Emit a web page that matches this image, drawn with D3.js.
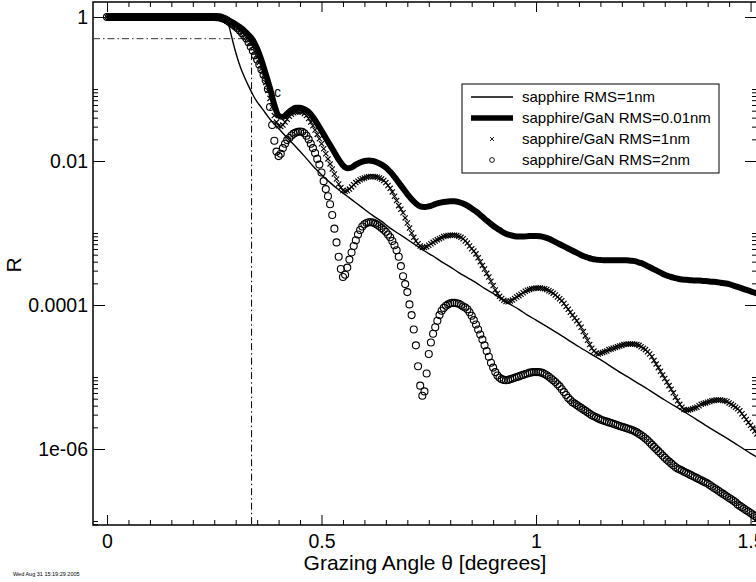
<!DOCTYPE html>
<html><head><meta charset="utf-8">
<script src="https://cdn.jsdelivr.net/npm/d3@7"></script>
<style>
body{margin:0;background:#fff}
svg{display:block}
text{font-family:"Liberation Sans",Arial,Helvetica,sans-serif;fill:#000}
</style>
</head><body>
<svg id="chart" width="756" height="582"></svg>
<script>
// ---------------- data ----------------
const seriesNames = ["sapphire RMS=1nm","sapphire/GaN RMS=0.01nm","sapphire/GaN RMS=1nm","sapphire/GaN RMS=2nm"];
const xMajorTicks = [0, 0.5, 1, 1.5];
const xTickLabels = ["0","0.5","1","1.5"];
const yMajorTicks = [1, 1e-2, 1e-4, 1e-6];
const yTickLabels = ["1","0.01","0.0001","1e-06"];
const xTitle = "Grazing Angle \u03b8 [degrees]";
const yTitle = "R";
const stampText = "Wed Aug 31 15:19:29 2005";
const criticalAngle = 0.337;
const criticalR = 0.5;

// sapphire RMS=1nm (thin line)
const thinTheta = [0,0.1,0.2,0.25,0.27,0.28,0.285,0.29,0.295,0.30,
0.305,0.31,0.32,0.33,0.34,0.35,0.36,0.37,0.38,0.39,
0.40,0.42,0.44,0.46,0.48,0.50,0.52,0.54,0.56,0.58,
0.60,0.62,0.64,0.66,0.68,0.70,0.72,0.74,0.76,0.78,
0.80,0.82,0.84,0.86,0.88,0.90,0.92,0.94,0.96,0.98,
1.00,1.05,1.10,1.15,1.20,1.25,1.30,1.35,1.40,1.45,
1.50,1.52];
const thinR = [1,1,0.989,0.977,0.955,0.871,0.724,0.55,0.417,0.324,
0.257,0.209,0.148,0.11,0.0832,0.0661,0.055,0.0457,0.038,0.0324,
0.0282,0.0209,0.0158,0.0117,8.51e-3,6.46e-3,5.01e-3,3.98e-3,3.24e-3,2.63e-3,
2.14e-3,1.74e-3,1.45e-3,1.17e-3,9.77e-4,8.13e-4,6.76e-4,5.62e-4,4.79e-4,3.98e-4,
3.39e-4,2.82e-4,2.4e-4,2.04e-4,1.7e-4,1.45e-4,1.2e-4,1.02e-4,8.71e-5,7.24e-5,
6.17e-5,4.07e-5,2.63e-5,1.74e-5,1.12e-5,7.41e-6,4.79e-6,3.16e-6,2.04e-6,1.35e-6,
8.71e-7,7.41e-7];

// sapphire/GaN RMS=0.01nm (thick line)
const thickTheta = [0,.01,.02,.03,.04,.05,.06,.07,.08,.09,.10,.11,.12,.13,.14,.15,.16,.17,.18,.19,
.20,.21,.22,.23,.24,.25,.26,.27,.28,.29,.30,.31,.32,.33,.34,.35,.36,.37,.38,.39,
.40,.41,.42,.43,.44,.45,.46,.47,.48,.49,.50,.51,.52,.53,.54,.55,.56,.57,.58,.59,
.60,.61,.62,.63,.64,.65,.66,.67,.68,.69,.70,.71,.72,.73,.74,.75,.76,.77,.78,.79,
.80,.81,.82,.83,.84,.85,.86,.87,.88,.89,.90,.91,.92,.93,.94,.95,.96,.97,.98,.99,
1.00,1.01,1.02,1.03,1.04,1.05,1.06,1.07,1.08,1.09,1.10,1.11,1.12,1.13,1.14,1.15,1.16,1.17,1.18,1.19,
1.20,1.21,1.22,1.23,1.24,1.25,1.26,1.27,1.28,1.29,1.30,1.31,1.32,1.33,1.34,1.35,1.36,1.37,1.38,1.39,
1.40,1.41,1.42,1.43,1.44,1.45,1.46,1.47,1.48,1.49,1.50,1.51,1.52];
const thickR = [1,1,1,1,1,1,1,1,1,1,1,1,1,1,1,1,1,1,1,1,
0.995,0.995,0.993,0.99,0.985,0.977,0.966,0.944,0.902,0.851,0.794,0.724,0.646,0.562,0.479,0.363,0.251,0.162,0.102,0.0603,
0.0427,0.0407,0.0457,0.0513,0.055,0.055,0.0525,0.0479,0.0407,0.0331,0.0263,0.0209,0.0166,0.0132,0.0105,8.71e-3,7.94e-3,8.13e-3,8.91e-3,9.55e-3,
0.01,0.0102,0.01,9.55e-3,8.91e-3,8.13e-3,7.08e-3,6.03e-3,5.01e-3,4.17e-3,3.47e-3,2.95e-3,2.57e-3,2.34e-3,2.29e-3,2.34e-3,2.45e-3,2.57e-3,2.66e-3,2.72e-3,
2.75e-3,2.75e-3,2.69e-3,2.57e-3,2.4e-3,2.19e-3,2e-3,1.78e-3,1.58e-3,1.41e-3,1.26e-3,1.15e-3,1.05e-3,9.77e-4,9.33e-4,9.02e-4,8.91e-4,8.91e-4,9.02e-4,9.12e-4,
9.12e-4,9.02e-4,8.71e-4,8.32e-4,7.76e-4,7.24e-4,6.76e-4,6.31e-4,5.89e-4,5.5e-4,5.13e-4,4.79e-4,4.57e-4,4.37e-4,4.27e-4,4.22e-4,4.17e-4,4.17e-4,4.17e-4,4.17e-4,
4.17e-4,4.17e-4,4.12e-4,4.07e-4,3.89e-4,3.72e-4,3.47e-4,3.24e-4,3.02e-4,2.82e-4,2.63e-4,2.51e-4,2.4e-4,2.32e-4,2.26e-4,2.24e-4,2.21e-4,2.19e-4,2.19e-4,2.16e-4,
2.14e-4,2.11e-4,2.09e-4,2.04e-4,2e-4,1.95e-4,1.86e-4,1.78e-4,1.7e-4,1.62e-4,1.55e-4,1.48e-4,1.41e-4];

// sampling angles of the two marker series
const scanTheta = [0,.005,.01,.015,.02,.025,.03,.035,.04,.045,.05,.055,.06,.065,.07,.075,.08,.085,.09,.095,
.10,.105,.11,.115,.12,.125,.13,.135,.14,.145,.15,.155,.16,.165,.17,.175,.18,.185,.19,.195,
.20,.205,.21,.215,.22,.225,.23,.235,.24,.245,.25,.255,.26,.265,.27,.275,.28,.285,.29,.295,
.30,.305,.31,.315,.32,.325,.33,.335,.34,.345,.35,.355,.36,.365,.37,.375,.38,.385,.39,.395,
.40,.405,.41,.415,.42,.425,.43,.435,.44,.445,.45,.455,.46,.465,.47,.475,.48,.485,.49,.495,
.50,.505,.51,.515,.52,.525,.53,.535,.54,.545,.55,.555,.56,.565,.57,.575,.58,.585,.59,.595,
.60,.605,.61,.615,.62,.625,.63,.635,.64,.645,.65,.655,.66,.665,.67,.675,.68,.685,.69,.695,
.70,.705,.71,.715,.72,.725,.73,.735,.74,.745,.75,.755,.76,.765,.77,.775,.78,.785,.79,.795,
.80,.805,.81,.815,.82,.825,.83,.835,.84,.845,.85,.855,.86,.865,.87,.875,.88,.885,.89,.895,
.90,.905,.91,.915,.92,.925,.93,.935,.94,.945,.95,.955,.96,.965,.97,.975,.98,.985,.99,.995,
1.00,1.005,1.01,1.015,1.02,1.025,1.03,1.035,1.04,1.045,1.05,1.055,1.06,1.065,1.07,1.075,1.08,1.085,1.09,1.095,
1.10,1.105,1.11,1.115,1.12,1.125,1.13,1.135,1.14,1.145,1.15,1.155,1.16,1.165,1.17,1.175,1.18,1.185,1.19,1.195,
1.20,1.205,1.21,1.215,1.22,1.225,1.23,1.235,1.24,1.245,1.25,1.255,1.26,1.265,1.27,1.275,1.28,1.285,1.29,1.295,
1.30,1.305,1.31,1.315,1.32,1.325,1.33,1.335,1.34,1.345,1.35,1.355,1.36,1.365,1.37,1.375,1.38,1.385,1.39,1.395,
1.40,1.405,1.41,1.415,1.42,1.425,1.43,1.435,1.44,1.445,1.45,1.455,1.46,1.465,1.47,1.475,1.48,1.485,1.49,1.495,
1.50,1.505,1.51,1.515,1.52];

// sapphire/GaN RMS=1nm (x markers)
const gan1nmR = [1,1,1,1,1,1,1,1,1,1,1,1,1,1,1,1,1,1,1,1,
1,1,1,1,1,1,1,1,1,1,1,1,1,1,1,1,1,1,1,1,
1,1,1,1,1,1,1,1,1,1,1,0.995,0.99,0.98,0.955,0.933,0.891,0.861,0.832,0.794,
0.759,0.716,0.676,0.631,0.582,0.537,0.49,0.437,0.389,0.331,0.282,0.234,0.191,0.155,0.123,0.0955,0.0741,0.0562,0.0427,0.0347,
0.0309,0.0302,0.0316,0.0347,0.038,0.0417,0.0447,0.0468,0.0479,0.0484,0.0484,0.0479,0.0457,0.0427,0.0389,0.0347,0.0309,0.0269,0.0234,0.0204,
0.0174,0.0148,0.0126,0.0107,9.12e-3,7.76e-3,6.61e-3,5.62e-3,4.79e-3,4.27e-3,3.89e-3,3.8e-3,3.89e-3,4.07e-3,4.37e-3,4.68e-3,5.01e-3,5.25e-3,5.5e-3,5.69e-3,
5.82e-3,5.96e-3,6.03e-3,6.1e-3,6.1e-3,6.03e-3,5.96e-3,5.82e-3,5.62e-3,5.37e-3,5.01e-3,4.57e-3,4.17e-3,3.72e-3,3.24e-3,2.82e-3,2.4e-3,2.14e-3,1.91e-3,1.62e-3,
1.38e-3,1.17e-3,1e-3,8.71e-4,7.76e-4,7.08e-4,6.61e-4,6.31e-4,6.31e-4,6.46e-4,6.76e-4,7.08e-4,7.41e-4,7.76e-4,8.04e-4,8.32e-4,8.61e-4,8.91e-4,9.12e-4,9.23e-4,
9.33e-4,9.33e-4,9.33e-4,9.23e-4,9.02e-4,8.71e-4,8.32e-4,7.76e-4,7.24e-4,6.61e-4,6.03e-4,5.62e-4,5.13e-4,4.52e-4,3.98e-4,3.55e-4,3.16e-4,2.75e-4,2.45e-4,2.14e-4,
1.86e-4,1.62e-4,1.45e-4,1.32e-4,1.23e-4,1.16e-4,1.12e-4,1.11e-4,1.14e-4,1.17e-4,1.23e-4,1.29e-4,1.35e-4,1.41e-4,1.48e-4,1.55e-4,1.6e-4,1.64e-4,1.68e-4,1.7e-4,
1.72e-4,1.72e-4,1.72e-4,1.7e-4,1.68e-4,1.64e-4,1.58e-4,1.53e-4,1.46e-4,1.38e-4,1.29e-4,1.22e-4,1.15e-4,1.05e-4,9.55e-5,8.71e-5,7.94e-5,7.24e-5,6.61e-5,6.03e-5,
5.5e-5,4.9e-5,4.27e-5,3.72e-5,3.24e-5,2.82e-5,2.51e-5,2.29e-5,2.14e-5,2.09e-5,2.14e-5,2.19e-5,2.24e-5,2.29e-5,2.4e-5,2.45e-5,2.51e-5,2.57e-5,2.63e-5,2.69e-5,
2.75e-5,2.82e-5,2.85e-5,2.88e-5,2.88e-5,2.88e-5,2.85e-5,2.82e-5,2.75e-5,2.63e-5,2.51e-5,2.4e-5,2.24e-5,2.09e-5,1.91e-5,1.7e-5,1.51e-5,1.35e-5,1.2e-5,1.07e-5,
9.55e-6,8.51e-6,7.59e-6,6.76e-6,6.03e-6,5.25e-6,4.68e-6,4.17e-6,3.8e-6,3.55e-6,3.47e-6,3.47e-6,3.55e-6,3.63e-6,3.72e-6,3.8e-6,3.98e-6,4.17e-6,4.27e-6,4.37e-6,
4.47e-6,4.57e-6,4.68e-6,4.73e-6,4.79e-6,4.79e-6,4.79e-6,4.73e-6,4.68e-6,4.57e-6,4.37e-6,4.17e-6,3.98e-6,3.8e-6,3.63e-6,3.39e-6,3.09e-6,2.82e-6,2.57e-6,2.34e-6,
2.14e-6,1.95e-6,1.78e-6,1.62e-6,1.48e-6];

// sapphire/GaN RMS=2nm (circles)
const gan2nmR = [1,1,1,1,1,1,1,1,1,1,1,1,1,1,1,1,1,1,1,1,
1,1,1,1,1,1,1,1,1,1,1,1,1,1,1,1,1,1,1,1,
1,1,1,1,1,1,1,1,1,1,1,0.995,0.99,0.98,0.955,0.933,0.891,0.851,0.813,0.776,
0.733,0.692,0.646,0.596,0.55,0.501,0.447,0.389,0.339,0.295,0.257,0.219,0.186,0.158,0.132,0.1,0.0562,0.0316,0.0191,0.0135,
0.0117,0.0126,0.0151,0.0174,0.0195,0.0209,0.0226,0.024,0.0248,0.0254,0.0257,0.0254,0.0243,0.0224,0.02,0.0174,0.0151,0.0129,0.0107,8.91e-3,
6.92e-3,5.25e-3,4.07e-3,3.24e-3,2.51e-3,1.78e-3,1.15e-3,7.41e-4,4.68e-4,3.16e-4,2.45e-4,2.63e-4,3.31e-4,4.27e-4,5.37e-4,6.61e-4,7.94e-4,9.55e-4,1.1e-3,1.23e-3,
1.32e-3,1.38e-3,1.41e-3,1.41e-3,1.4e-3,1.35e-3,1.3e-3,1.24e-3,1.17e-3,1.11e-3,1.04e-3,9.55e-4,8.71e-4,7.76e-4,6.76e-4,5.75e-4,4.68e-4,3.47e-4,2.51e-4,1.95e-4,
1.51e-4,1.02e-4,7.24e-5,4.57e-5,2.75e-5,1.41e-5,7.59e-6,5.5e-6,6.31e-6,1.12e-5,2.09e-5,3.02e-5,3.98e-5,4.9e-5,6.03e-5,7.24e-5,8.32e-5,9.12e-5,9.77e-5,1.02e-4,
1.06e-4,1.07e-4,1.07e-4,1.06e-4,1.04e-4,1e-4,9.55e-5,9.23e-5,8.71e-5,7.94e-5,7.08e-5,6.17e-5,5.37e-5,4.57e-5,3.89e-5,3.31e-5,2.75e-5,2.29e-5,1.91e-5,1.58e-5,
1.35e-5,1.17e-5,1.05e-5,9.77e-6,9.33e-6,9.12e-6,9.02e-6,9.12e-6,9.33e-6,9.55e-6,9.77e-6,1e-5,1.02e-5,1.05e-5,1.07e-5,1.1e-5,1.12e-5,1.15e-5,1.16e-5,1.17e-5,
1.17e-5,1.17e-5,1.16e-5,1.14e-5,1.1e-5,1.06e-5,1.01e-5,9.55e-6,9.02e-6,8.51e-6,7.94e-6,7.41e-6,6.76e-6,6.17e-6,5.62e-6,5.13e-6,4.79e-6,4.47e-6,4.27e-6,4.07e-6,
3.89e-6,3.72e-6,3.55e-6,3.39e-6,3.24e-6,3.09e-6,2.95e-6,2.85e-6,2.75e-6,2.66e-6,2.57e-6,2.51e-6,2.45e-6,2.4e-6,2.34e-6,2.29e-6,2.24e-6,2.19e-6,2.14e-6,2.09e-6,
2.04e-6,2e-6,1.95e-6,1.91e-6,1.86e-6,1.82e-6,1.76e-6,1.7e-6,1.62e-6,1.55e-6,1.48e-6,1.4e-6,1.32e-6,1.23e-6,1.15e-6,1.07e-6,1e-6,9.33e-7,8.71e-7,8.13e-7,
7.59e-7,7.08e-7,6.68e-7,6.31e-7,5.96e-7,5.62e-7,5.37e-7,5.19e-7,5.01e-7,4.84e-7,4.68e-7,4.52e-7,4.37e-7,4.22e-7,4.07e-7,3.94e-7,3.8e-7,3.67e-7,3.55e-7,3.43e-7,
3.31e-7,3.16e-7,3.02e-7,2.88e-7,2.75e-7,2.63e-7,2.51e-7,2.4e-7,2.29e-7,2.19e-7,2.09e-7,2e-7,1.91e-7,1.82e-7,1.7e-7,1.62e-7,1.55e-7,1.48e-7,1.41e-7,1.35e-7,
1.29e-7,1.23e-7,1.17e-7,1.12e-7,1.07e-7];

// ---------------- drawing ----------------
const svg = d3.select("#chart");
const plot = {left:93, right:757, top:2, bottom:525};
const x = d3.scaleLinear().domain([-0.0326, 1.515]).range([plot.left, plot.right]);
const y = d3.scaleLog().domain([8.8e-8, 1.616]).range([plot.bottom, plot.top]);

svg.append("rect").attr("width",756).attr("height",582).attr("fill","#fff");

const defs = svg.append("defs");
defs.append("clipPath").attr("id","clip").append("rect")
  .attr("x",plot.left).attr("y",plot.top)
  .attr("width",plot.right-plot.left).attr("height",plot.bottom-plot.top);

// minor ticks
const xMinor = d3.range(1,31).filter(i=>i%10!==0).map(i=>i*0.05);
const yMinor = [];
[-8,-6,-4,-2].forEach(k=>{ for(let m=2;m<=10;m++){ const v=m*Math.pow(10,k); if(v>=y.domain()[0] && v<=y.domain()[1]) yMinor.push(v);} });

function clean(g, fs){
  g.select(".domain").remove();
  g.selectAll("line").attr("stroke","#000").attr("stroke-width",1);
  g.attr("font-family",null).attr("font-size",null);
  g.selectAll("text").attr("font-size",fs).attr("fill","#000");
}
const tickFs = 19.5;
// bottom
svg.append("g").attr("transform",`translate(0,${plot.bottom})`)
  .call(d3.axisBottom(x).tickValues(xMajorTicks).tickSize(-10).tickPadding(9).tickFormat((d,i)=>xTickLabels[i]))
  .call(g=>clean(g,tickFs));
svg.append("g").attr("transform",`translate(0,${plot.bottom})`)
  .call(d3.axisBottom(x).tickValues(xMinor).tickSize(-5).tickFormat(""))
  .call(g=>clean(g,tickFs));
// top
svg.append("g").attr("transform",`translate(0,${plot.top})`)
  .call(d3.axisTop(x).tickValues(xMajorTicks).tickSize(-10).tickFormat(""))
  .call(g=>clean(g,tickFs));
svg.append("g").attr("transform",`translate(0,${plot.top})`)
  .call(d3.axisTop(x).tickValues(xMinor).tickSize(-5).tickFormat(""))
  .call(g=>clean(g,tickFs));
// left
svg.append("g").attr("transform",`translate(${plot.left},0)`)
  .call(d3.axisLeft(y).tickValues(yMajorTicks).tickSize(-12).tickPadding(5).tickFormat((d,i)=>yTickLabels[i]))
  .call(g=>clean(g,tickFs));
svg.append("g").attr("transform",`translate(${plot.left},0)`)
  .call(d3.axisLeft(y).tickValues(yMinor).tickSize(-5).tickFormat(""))
  .call(g=>clean(g,tickFs));
// right
svg.append("g").attr("transform",`translate(${plot.right},0)`)
  .call(d3.axisRight(y).tickValues(yMajorTicks).tickSize(-12).tickFormat(""))
  .call(g=>clean(g,tickFs));
svg.append("g").attr("transform",`translate(${plot.right},0)`)
  .call(d3.axisRight(y).tickValues(yMinor).tickSize(-5).tickFormat(""))
  .call(g=>clean(g,tickFs));

// frame
svg.append("rect").attr("x",plot.left).attr("y",plot.top)
  .attr("width",plot.right-plot.left).attr("height",plot.bottom-plot.top)
  .attr("fill","none").attr("stroke","#000").attr("stroke-width",1.5);

const gData = svg.append("g").attr("clip-path","url(#clip)");

// critical angle guides
gData.append("line")
  .attr("x1",plot.left).attr("x2",x(criticalAngle))
  .attr("y1",y(criticalR)).attr("y2",y(criticalR))
  .attr("stroke","#333").attr("stroke-width",1).attr("stroke-dasharray","7,3,1.5,3");
gData.append("line")
  .attr("x1",x(criticalAngle)).attr("x2",x(criticalAngle))
  .attr("y1",y(criticalR)).attr("y2",plot.bottom)
  .attr("stroke","#000").attr("stroke-width",1).attr("stroke-dasharray","7,3,1.5,3");

const thin = thinTheta.map((t,i)=>[t,thinR[i]]);
const thick = thickTheta.map((t,i)=>[t,thickR[i]]);
const s1 = scanTheta.map((t,i)=>[t,gan1nmR[i]]);
const s2 = scanTheta.map((t,i)=>[t,gan2nmR[i]]);

const line = d3.line().x(d=>x(d[0])).y(d=>y(d[1])).curve(d3.curveMonotoneX);

gData.append("path").datum(thin).attr("d",line)
  .attr("fill","none").attr("stroke","#000").attr("stroke-width",1.4);
gData.append("path").datum(thick).attr("d",line)
  .attr("fill","none").attr("stroke","#000").attr("stroke-width",6);

const cross = "M-2.6,-2.6L2.6,2.6M-2.6,2.6L2.6,-2.6";
gData.append("g").selectAll("path").data(s1).join("path")
  .attr("transform",d=>`translate(${x(d[0])},${y(d[1])})`)
  .attr("d",cross).attr("fill","none").attr("stroke","#000").attr("stroke-width",1.15);

gData.append("g").selectAll("circle").data(s2).join("circle")
  .attr("cx",d=>x(d[0])).attr("cy",d=>y(d[1])).attr("r",3.5)
  .attr("fill","none").attr("stroke","#000").attr("stroke-width",1.1);

// "c" annotation
svg.append("text").attr("x",274).attr("y",97).attr("font-size",14).text("c");

// legend
const lg = svg.append("g");
lg.append("rect").attr("x",462).attr("y",84).attr("width",257).attr("height",89)
  .attr("fill","#fff").attr("stroke","#000").attr("stroke-width",1);
const rowY = [97,118,139,160];
lg.append("line").attr("x1",471).attr("x2",513).attr("y1",rowY[0]).attr("y2",rowY[0]).attr("stroke","#000").attr("stroke-width",1.4);
lg.append("line").attr("x1",471).attr("x2",513).attr("y1",rowY[1]).attr("y2",rowY[1]).attr("stroke","#000").attr("stroke-width",5.5);
lg.append("path").attr("transform",`translate(492,${rowY[2]})`).attr("d","M-2,-2L2,2M-2,2L2,-2").attr("stroke","#000").attr("stroke-width",0.9);
lg.append("circle").attr("cx",492).attr("cy",rowY[3]).attr("r",2.4).attr("fill","none").attr("stroke","#000").attr("stroke-width",0.9);
lg.selectAll("text.lt").data(seriesNames).join("text").attr("class","lt")
  .attr("x",522).attr("y",(d,i)=>rowY[i]).attr("dy","0.36em").attr("font-size",15).text(d=>d);

// titles
svg.append("text").attr("x",425).attr("y",570).attr("text-anchor","middle").attr("font-size",21).text(xTitle);
svg.append("text").attr("transform","translate(21,265) rotate(-90)").attr("text-anchor","middle").attr("font-size",21).text(yTitle);
svg.append("text").attr("x",13).attr("y",576).attr("font-size",5.5).attr("fill","#333").text(stampText);
</script>
</body></html>
